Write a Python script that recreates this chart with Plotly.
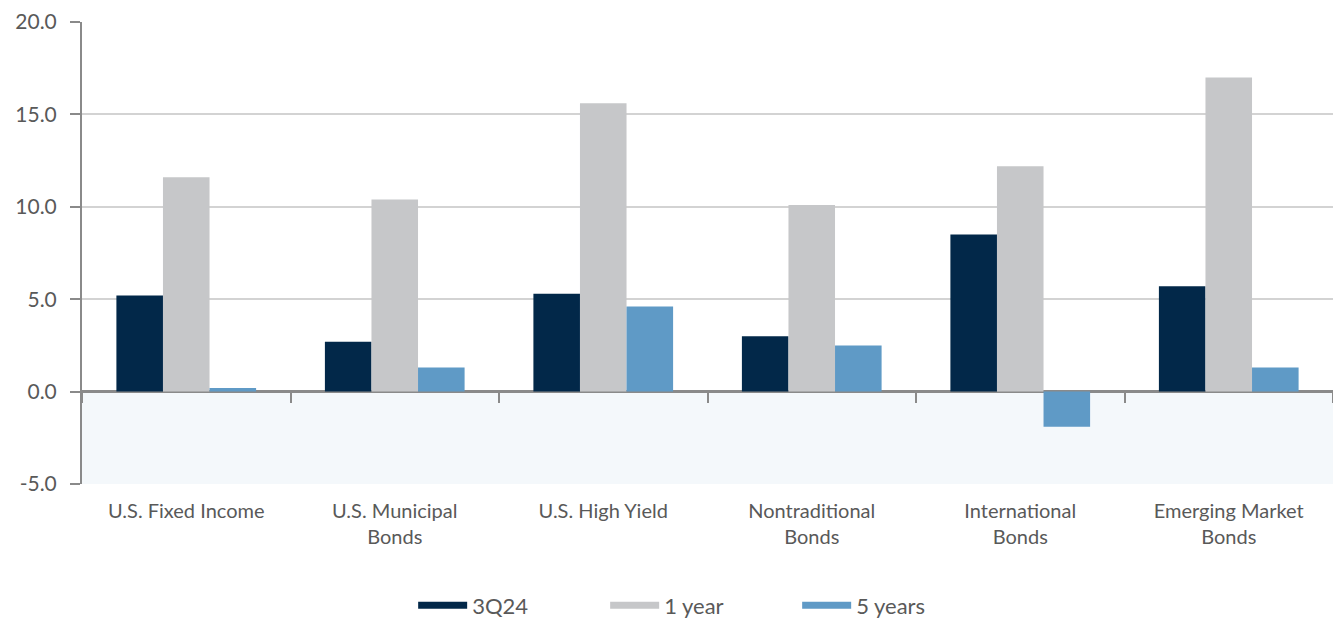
import plotly.graph_objects as go

categories = ["U.S. Fixed Income", "U.S. Municipal<br>Bonds", "U.S. High Yield",
              "Nontraditional<br>Bonds", "International<br>Bonds", "Emerging Market<br>Bonds"]
series_names = ["3Q24", "1 year", "5 years"]
q3_24 = [5.2, 2.7, 5.3, 3.0, 8.5, 5.7]
one_year = [11.6, 10.4, 15.6, 10.1, 12.2, 17.0]
five_years = [0.2, 1.3, 4.6, 2.5, -1.9, 1.3]
y_ticks = [-5, 0, 5, 10, 15, 20]
y_tick_text = [f"{v:.1f}" for v in y_ticks]

colors = ["#022849", "#c6c7c9", "#5f9ac6"]
FONT = "Lato"
TXT = "#595959"

fig = go.Figure()
for name, vals, col in zip(series_names, [q3_24, one_year, five_years], colors):
    fig.add_trace(go.Bar(x=categories, y=vals, name=name, marker=dict(color=col, line=dict(width=0)),
                         showlegend=False))
    fig.add_trace(go.Scatter(x=[None], y=[None], mode="lines", name=name,
                             line=dict(color=col, width=7), showlegend=True))

# invisible trace for the boundary ticks on the zero line
fig.add_trace(go.Scatter(x=categories, y=[0] * len(categories), xaxis="x2", mode="none",
                         showlegend=False, hoverinfo="skip"))

fig.add_shape(type="rect", xref="paper", x0=0, x1=1, yref="y", y0=-5, y1=0,
              fillcolor="#f4f8fb", line=dict(width=0), layer="below")

fig.update_layout(
    width=1333, height=623,
    margin=dict(l=82, r=0, t=22, b=139),
    paper_bgcolor="white", plot_bgcolor="white",
    barmode="group", bargap=0.33, bargroupgap=0,
    font=dict(family=FONT, color=TXT),
    xaxis=dict(type="category", categoryarray=categories, showgrid=False, showline=False,
               ticks="", tickfont=dict(size=20, color=TXT), ticklabelstandoff=13, zeroline=False),
    xaxis2=dict(type="category", categoryarray=categories, overlaying="x", matches="x",
                anchor="free", position=0.2, showline=False, showgrid=False,
                ticks="outside", tickson="boundaries", ticklen=10, tickwidth=2,
                tickcolor="#8a8a8a", showticklabels=False, zeroline=False),
    yaxis=dict(range=[-5, 20], tickvals=y_ticks, ticktext=y_tick_text,
               showgrid=True, gridcolor="#d3d3d3", gridwidth=1.5,
               zeroline=True, zerolinecolor="#8a8a8a", zerolinewidth=2.5,
               showline=True, linecolor="#8a8a8a", linewidth=2,
               ticks="outside", ticklen=10, tickwidth=2, tickcolor="#8a8a8a",
               tickfont=dict(size=21, color=TXT), ticklabelstandoff=9),
    legend=dict(orientation="h", xref="container", x=0.526, xanchor="center",
                yref="container", y=0.028, yanchor="middle",
                font=dict(size=22, color=TXT), itemwidth=49, entrywidth=128,
                bgcolor="rgba(0,0,0,0)"),
)

fig.write_html("out.html")
